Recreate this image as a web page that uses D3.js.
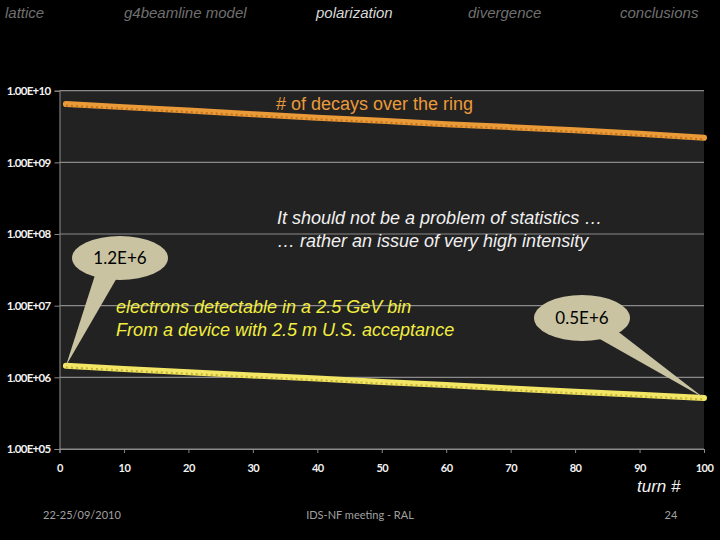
<!DOCTYPE html>
<html><head><meta charset="utf-8">
<script src="https://cdn.jsdelivr.net/npm/d3@7/dist/d3.min.js"></script>
<style>
html,body{margin:0;padding:0;background:#000;}
svg{display:block;}
</style></head>
<body>
<svg id="c" width="720" height="540"></svg>
<script>
// ---- data ----
const turns = [1,10,20,30,40,50,60,70,80,90,100];
const decays = [6.5e9,5.9e9,5.3e9,4.7e9,4.2e9,3.8e9,3.4e9,3.1e9,2.8e9,2.5e9,2.2e9];
const electrons = [1.45e6,1.31e6,1.18e6,1.06e6,0.96e6,0.86e6,0.78e6,0.70e6,0.63e6,0.57e6,0.516e6];
const yTicks = [1e5,1e6,1e7,1e8,1e9,1e10];
const yTickLabels = ["1.00E+05","1.00E+06","1.00E+07","1.00E+08","1.00E+09","1.00E+10"];
const xTicks = [0,10,20,30,40,50,60,70,80,90,100];
const navItems = ["lattice","g4beamline model","polarization","divergence","conclusions"];
const activeNav = "polarization";

const svg = d3.select("#c");
const W=720,H=540;
svg.append("rect").attr("width",W).attr("height",H).attr("fill","#000");

// nav
const navX = [5,124,316,468,620];
svg.selectAll("text.nav").data(navItems).enter().append("text")
  .attr("x",(d,i)=>navX[i]).attr("y",18)
  .attr("font-family","Liberation Sans, Arial, sans-serif").attr("font-style","italic")
  .attr("font-size",15).attr("fill",d=>d===activeNav?"#d8d8d8":"#707070")
  .text(d=>d);

const x = d3.scaleLinear().domain([0,100]).range([59.5,704]);
const y = d3.scaleLog().domain([1e5,1e10]).range([449,90.7]);

// plot background
svg.append("rect").attr("x",x(0)).attr("y",y(1e10)).attr("width",x(100)-x(0)).attr("height",y(1e5)-y(1e10)).attr("fill","#222");

// gridlines
svg.append("g").selectAll("line").data(yTicks).enter().append("line")
  .attr("x1",x(0)).attr("x2",x(100)).attr("y1",d=>y(d)).attr("y2",d=>y(d))
  .attr("stroke","#8a8a8a").attr("stroke-width",1.2);

// axes
const yAxis = d3.axisLeft(y).tickValues(yTicks).tickFormat((d,i)=>yTickLabels[i]).tickSize(5).tickPadding(4);
const gy = svg.append("g").attr("transform",`translate(${x(0)},0)`).call(yAxis);
gy.select(".domain").attr("stroke","#8a8a8a");
gy.selectAll(".tick line").attr("stroke","#8a8a8a");
gy.selectAll(".tick text").attr("fill","#f2f2f2").attr("font-family","Lato, Open Sans, sans-serif")
  .attr("font-size",11.5).attr("font-weight","bold").attr("letter-spacing","-0.7px");

const xAxis = d3.axisBottom(x).tickValues(xTicks).tickSize(4).tickPadding(11);
const gx = svg.append("g").attr("transform",`translate(0,${y(1e5)})`).call(xAxis);
gx.select(".domain").attr("stroke","#8a8a8a");
gx.selectAll(".tick line").attr("stroke","#8a8a8a");
gx.selectAll(".tick text").attr("fill","#f2f2f2").attr("font-family","Lato, Open Sans, sans-serif")
  .attr("font-size",11).attr("font-weight","bold").attr("letter-spacing","-0.5px");

// lines
const line = d3.line().x((d,i)=>x(turns[i])).y(d=>y(d));
function drawSeries(vals, base, dark){
  svg.append("path").datum(vals).attr("d",line).attr("fill","none").attr("stroke",base).attr("stroke-width",6).attr("stroke-linecap","round");
  svg.append("path").datum(vals).attr("d",line).attr("fill","none").attr("stroke",dark).attr("stroke-width",2).attr("stroke-dasharray","2,3").attr("transform","translate(0,1.5)").attr("opacity",0.8);
}
drawSeries(decays,"#eb9a38","#b86a18");
drawSeries(electrons,"#f4e665","#b8a830");

// annotations
const ff = "Liberation Sans, Arial, sans-serif";
svg.append("text").attr("x",276).attr("y",110).attr("font-family",ff).attr("font-size",18).attr("fill","#ea9a3a").text("# of decays over the ring");
svg.append("text").attr("x",277).attr("y",224).attr("font-family",ff).attr("font-style","italic").attr("font-size",18).attr("fill","#f0f0f0").text("It should not be a problem of statistics …");
svg.append("text").attr("x",277).attr("y",247).attr("font-family",ff).attr("font-style","italic").attr("font-size",18).attr("fill","#f0f0f0").text("… rather an issue of very high intensity");
svg.append("text").attr("x",116).attr("y",313).attr("font-family",ff).attr("font-style","italic").attr("font-size",18).attr("fill","#f2ee40").text("electrons detectable in a 2.5 GeV bin");
svg.append("text").attr("x",116).attr("y",336).attr("font-family",ff).attr("font-style","italic").attr("font-size",18).attr("fill","#f2ee40").text("From a device with 2.5 m U.S. acceptance");

// callouts
function callout(cx,cy,rx,ry,b1,b2,tipTurn,tipVal,label){
  const g = svg.append("g");
  const tx = x(tipTurn), ty = y(tipVal);
  g.append("path").attr("d",`M${b1[0]},${b1[1]} L${tx},${ty} L${b2[0]},${b2[1]} Z`).attr("fill","#c9c3a2");
  g.append("ellipse").attr("cx",cx).attr("cy",cy).attr("rx",rx).attr("ry",ry).attr("fill","#c9c3a2");
  g.append("text").attr("x",cx).attr("y",cy+6).attr("text-anchor","middle").attr("font-family","Lato, Open Sans, sans-serif").attr("font-size",17).attr("fill","#000").text(label);
}
callout(120,258,48,22,[96,272],[118,276],1,electrons[0],"1.2E+6");
callout(582,318,48,23,[598,338],[616,330],100,electrons[electrons.length-1],"0.5E+6");

// x title
svg.append("text").attr("x",637).attr("y",492).attr("font-family",ff).attr("font-style","italic").attr("font-size",17).attr("fill","#f2f2f2").text("turn #");

// footer
const fs = {family:"Lato, Open Sans, sans-serif", size:11, fill:"#a0a0a0"};
svg.append("text").attr("x",43).attr("y",519).attr("font-family",fs.family).attr("font-size",fs.size).attr("fill",fs.fill).text("22-25/09/2010");
svg.append("text").attr("x",360).attr("y",519).attr("text-anchor","middle").attr("font-family",fs.family).attr("font-size",fs.size).attr("fill",fs.fill).text("IDS-NF meeting - RAL");
svg.append("text").attr("x",671).attr("y",519).attr("text-anchor","middle").attr("font-family",fs.family).attr("font-size",fs.size).attr("fill",fs.fill).text("24");
</script>
</body></html>
